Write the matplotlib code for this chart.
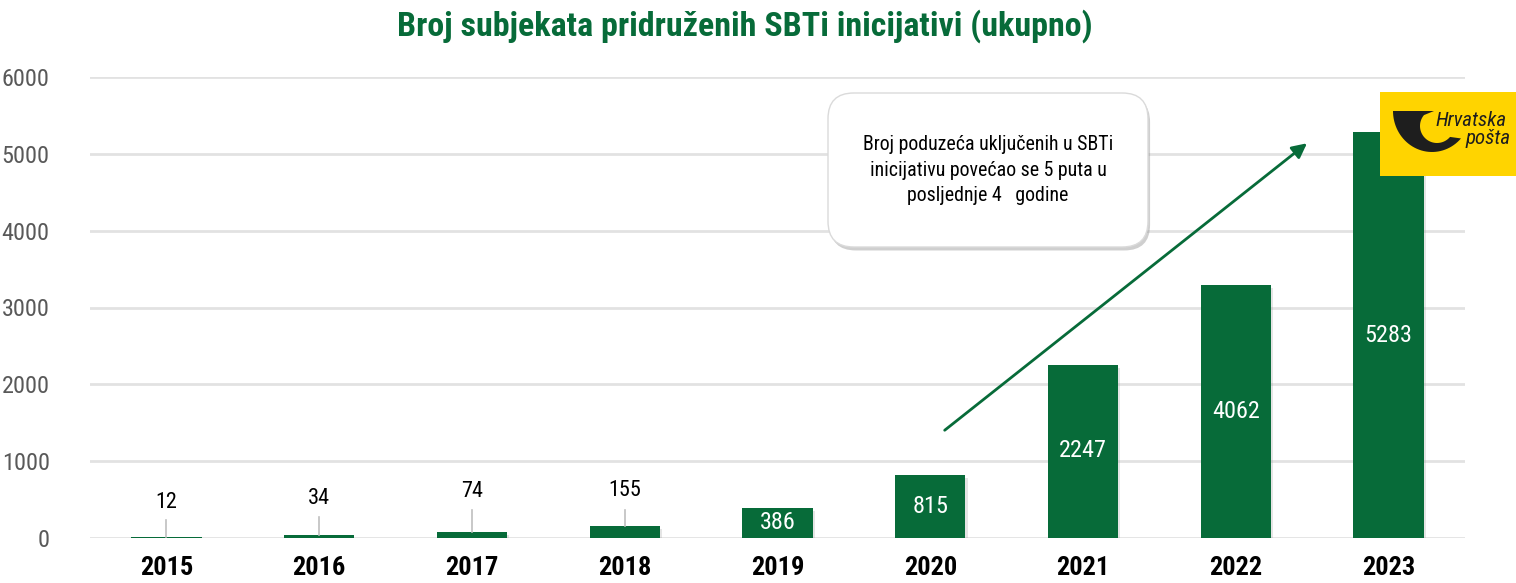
import matplotlib
matplotlib.use("Agg")
import numpy as np
import matplotlib.pyplot as plt
from matplotlib import font_manager
from matplotlib.patches import FancyBboxPatch, Rectangle, Polygon
from matplotlib.transforms import Affine2D
import matplotlib.patheffects as pe

years = ["2015", "2016", "2017", "2018", "2019", "2020", "2021", "2022", "2023"]
bar_height = [12, 34, 74, 155, 390, 818, 2250, 3290, 5283]   # heights as drawn
bar_label = ["12", "34", "74", "155", "386", "815", "2247", "4062", "5283"]
yticks = [0, 1000, 2000, 3000, 4000, 5000, 6000]

title = "Broj subjekata pridruženih SBTi inicijativi (ukupno)"
note = "Broj poduzeća uključenih u SBTi\ninicijativu povećao se 5 puta u\nposljednje 4   godine"

green = "#076B39"

# pick a narrow font if there is one
names = {f.name for f in font_manager.fontManager.ttflist}
narrow = None
for n in ["Roboto Condensed", "Liberation Sans Narrow", "DejaVu Sans Condensed", "Open Sans Condensed"]:
    if n in names:
        narrow = n
        break
fam = [narrow] if narrow else ["Liberation Sans"]
plt.rcParams["font.family"] = fam + ["DejaVu Sans"]

W, H = 1516, 583
fig = plt.figure(figsize=(W / 100, H / 100), dpi=100)
# pixel coords (y down) -> figure
px = Affine2D().scale(1 / W, -1 / H).translate(0, 1) + fig.transFigure

ax = fig.add_axes([90 / W, 1 - 538 / H, 1375 / W, 461 / H])

x = list(range(len(years)))
bars = ax.bar(x, bar_height, width=0.46, color=green, zorder=3)
for b in bars:
    b.set_path_effects([pe.SimplePatchShadow(offset=(1.5, -2), shadow_rgbFace="#999999", alpha=0.25), pe.Normal()])

ax.set_xlim(-0.5, 8.5)
ax.set_ylim(0, 6000)
ax.set_yticks(yticks)
ax.set_yticklabels([str(t) for t in yticks], fontsize=17.5, color="#595959")
ax.yaxis.grid(True, color="#E2E2E2", linewidth=2, zorder=0)
ax.set_xticks(x)
ax.set_xticklabels(years, fontsize=19, fontweight="bold", color="black")
ax.tick_params(length=0)
ax.tick_params(axis="y", pad=29)
ax.tick_params(axis="x", pad=13)
for s in ax.spines.values():
    s.set_visible(False)

# labels: small ones above with leader lines, the rest inside
above_y = [456, 508, 599, 612]
line_top = [234, 273, 365, 365]
inside_y = {4: 208, 5: 404, 6: 1133, 7: 1640, 8: 2630}
for i, (h, lab) in enumerate(zip(bar_height, bar_label)):
    if i < 4:
        ax.plot([i, i], [h, line_top[i]], color="#BFBFBF", lw=1.2, zorder=4)
        ax.text(i, above_y[i], lab, ha="center", va="center", fontsize=16, color="black")
    else:
        ax.text(i, inside_y[i], lab, ha="center", va="center", fontsize=17.5, color="white", zorder=5)

# trend arrow
ax.annotate("", xy=(7.48, 5160), xytext=(5.08, 1380),
            arrowprops=dict(arrowstyle="-|>", color=green, lw=2, mutation_scale=22), zorder=6)

# callout box
box = FancyBboxPatch((828 / W, 1 - 247 / H), 320 / W, 154 / H,
                     boxstyle="round,pad=0,rounding_size=0.017", transform=fig.transFigure,
                     facecolor="white", edgecolor="#DADADA", lw=1, zorder=10,
                     mutation_aspect=W / H)
box.set_path_effects([pe.SimplePatchShadow(offset=(1.5, -2.5), shadow_rgbFace="#888888", alpha=0.4), pe.Normal()])
fig.patches.append(box)
fig.text(988 / W, 1 - 170 / H, note, ha="center", va="center", fontsize=14.3,
         linespacing=1.45, color="black", zorder=11)

# logo (pixel coords, y down)
fig.patches.append(Rectangle((1380, 92), 136, 84, transform=px,
                             facecolor="#FFD400", edgecolor="none", zorder=10))
t_out = np.radians(np.linspace(180, 42, 40))
t_in = np.radians(np.linspace(40, 220, 40))
outer = np.column_stack([1432 + 39 * np.cos(t_out), 111 + 41 * np.sin(t_out)])
inner = np.column_stack([1437 + 17 * np.cos(t_in), 126 + 17 * np.sin(t_in)])
horn = np.vstack([outer, inner, [[1434, 111]]])
fig.patches.append(Polygon(horn, closed=True, transform=px,
                           facecolor="#1E1E1E", edgecolor="none", zorder=11))
fig.text(1436 / W, 1 - 120 / H, "Hrvatska", fontsize=15, style="italic", color="#1E1E1E",
         ha="left", va="center", zorder=12)
fig.text(1465 / W, 1 - 138 / H, "pošta", fontsize=15, style="italic", color="#1E1E1E",
         ha="left", va="center", zorder=12)

fig.text(745 / W, 1 - 26 / H, title, ha="center", va="center", fontsize=24.5,
         fontweight="bold", color=green)

fig.savefig("out.png", dpi=100)
